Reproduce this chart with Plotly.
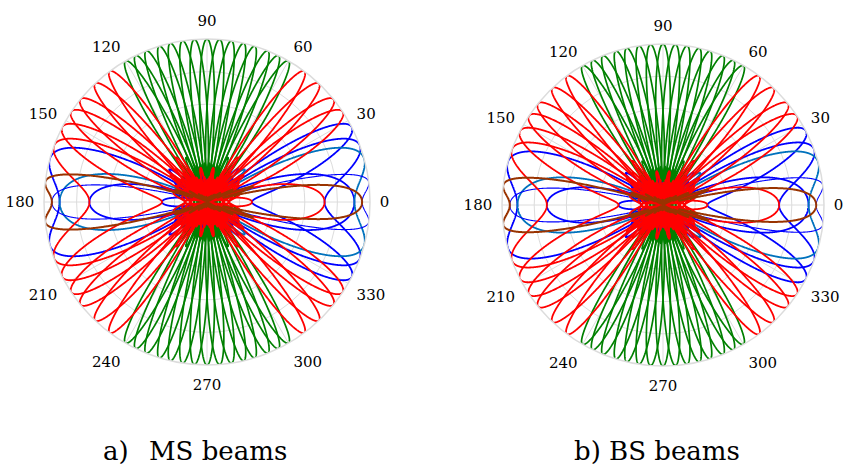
import numpy as np
import plotly.graph_objects as go

# Uniform linear array, half-wavelength spacing, quantised phase shifters
SPACING = 0.5
ELEMENTS = 14          # array size used for most beams
NARROW_ELEMENTS = 48   # array size of the two narrow end-fire beams
PHASE_BITS = 3         # phase-shifter resolution

# Beam steering directions (degrees), grouped by plot colour
ms_green_deg = [60, 64.3, 68.6, 72.9, 77.1, 81.4, 85.7, 90,
                94.3, 98.6, 102.9, 107.1, 111.4, 115.7, 120]
ms_red_deg = [33.5, 40, 46.5, 53.5, 126.5, 133.5, 140, 146.5, 153, 159]
ms_blue_deg = [21, 27, 165]
ms_thinblue_deg = [7]
ms_teal_deg = [15]
ms_brown_deg = [173]

bs_green_deg = [60, 64.3, 68.6, 72.9, 77.1, 81.4, 85.7, 90,
                94.3, 98.6, 102.9, 107.1, 111.4, 115.7, 120]
bs_red_deg = [33.5, 40, 46.5, 53.5, 126.5, 133.5, 140, 146.5, 153, 159]
bs_blue_deg = [21, 27, 165]
bs_thinblue_deg = [7]
bs_teal_deg = [15]
bs_brown_deg = [173]

angle_ticks = [0, 30, 60, 90, 120, 150, 180, 210, 240, 270, 300, 330]
angle_labels = [str(a) for a in angle_ticks]

phi = np.linspace(0.0, 360.0, 7201)


def array_factor(steer_deg, n):
    """Normalised |AF| of an n-element ULA steered to steer_deg
    with phase shifters of PHASE_BITS resolution."""
    k = np.arange(n)
    step = 2 * np.pi / 2 ** PHASE_BITS
    phase = 2 * np.pi * SPACING * k * np.cos(np.radians(steer_deg))
    phase = np.round(phase / step) * step
    psi = 2 * np.pi * SPACING * np.cos(np.radians(phi))
    af = np.abs(np.exp(1j * (np.outer(psi, k) - phase)).sum(axis=1))
    return af / af.max()


fig = go.Figure()

# drawing order: green first, red over blue, brown on top
groups = [
    ("green", "#008000", 1.7, ELEMENTS),
    ("blue", "#0000ff", 1.8, ELEMENTS),
    ("teal", "#0072bd", 1.8, ELEMENTS),
    ("thinblue", "#0000ff", 1.1, NARROW_ELEMENTS),
    ("red", "#ff0000", 1.8, ELEMENTS),
    ("brown", "#993300", 2.0, NARROW_ELEMENTS),
]

panels = {
    "polar": dict(green=ms_green_deg, red=ms_red_deg, blue=ms_blue_deg,
                  teal=ms_teal_deg, thinblue=ms_thinblue_deg, brown=ms_brown_deg),
    "polar2": dict(green=bs_green_deg, red=bs_red_deg, blue=bs_blue_deg,
                   teal=bs_teal_deg, thinblue=bs_thinblue_deg, brown=bs_brown_deg),
}

for subplot, beams in panels.items():
    for name, color, width, n in groups:
        for steer in beams[name]:
            fig.add_trace(go.Scatterpolar(
                r=array_factor(steer, n), theta=phi, mode="lines",
                line=dict(color=color, width=width),
                subplot=subplot, showlegend=False, hoverinfo="skip"))

GRID = "#dcdcdc"
SERIF = "DejaVu Serif"
TICKFONT = dict(family=SERIF, size=15, color="black")


def polar_layout(xdom, ydom):
    return dict(
        domain=dict(x=xdom, y=ydom),
        bgcolor="white",
        angularaxis=dict(
            rotation=0, direction="counterclockwise",
            tickmode="array", tickvals=angle_ticks, ticktext=angle_labels,
            ticks="outside", ticklen=6, tickcolor="rgba(0,0,0,0)",
            showgrid=True, gridcolor=GRID, gridwidth=1,
            showline=True, linecolor=GRID, linewidth=1.5,
            tickfont=TICKFONT),
        radialaxis=dict(
            range=[0, 1], tickvals=[0.2, 0.4, 0.6, 0.8, 1.0],
            showticklabels=False, ticks="", showline=False,
            showgrid=True, gridcolor=GRID, gridwidth=1),
    )


caption_font = dict(family=SERIF, size=26, color="black")
cap_y = 1 - 451 / 465

fig.update_layout(
    width=844, height=465,
    margin=dict(l=0, r=0, t=0, b=0),
    paper_bgcolor="white",
    font=dict(family=SERIF),
    polar=polar_layout([44 / 844, 370 / 844], [1 - 365 / 465, 1 - 39 / 465]),
    polar2=polar_layout([502 / 844, 824 / 844], [1 - 366 / 465, 1 - 44 / 465]),
    annotations=[
        dict(text="a)", x=101 / 844, y=cap_y, xref="paper", yref="paper",
             xanchor="left", yanchor="middle", showarrow=False, font=caption_font),
        dict(text="MS beams", x=147 / 844, y=cap_y, xref="paper", yref="paper",
             xanchor="left", yanchor="middle", showarrow=False, font=caption_font),
        dict(text="b) BS beams", x=572 / 844, y=cap_y, xref="paper", yref="paper",
             xanchor="left", yanchor="middle", showarrow=False, font=caption_font),
    ],
)

fig.write_html("out.html")
